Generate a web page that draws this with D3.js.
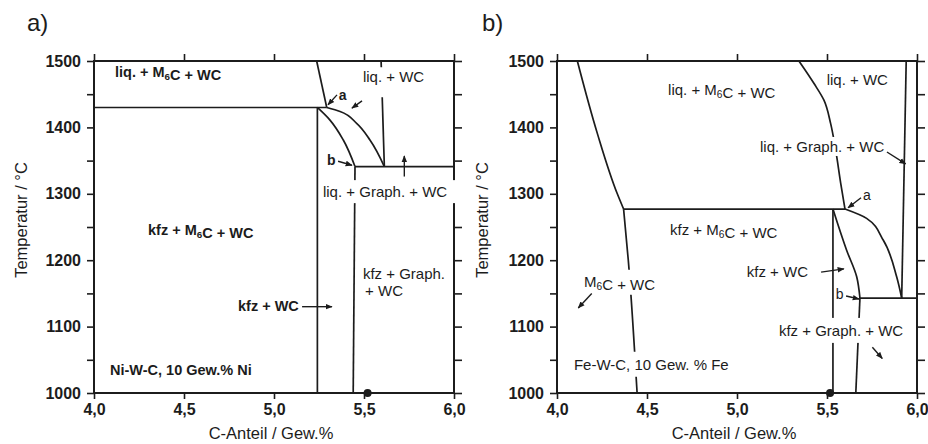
<!DOCTYPE html>
<html>
<head>
<meta charset="utf-8">
<script src="https://cdn.jsdelivr.net/npm/d3@7"></script>
<style>
  body { margin: 0; background: #fff; }
  text { fill: #1c1c1c; }
</style>
</head>
<body>
<svg id="chart" width="928" height="444"></svg>
<script>
// axis values
var xTicks = [4.0, 4.5, 5.0, 5.5, 6.0];
var yTicks = [1000, 1050, 1100, 1150, 1200, 1250, 1300, 1350, 1400, 1450, 1500];
var yLabelTicks = [1000, 1100, 1200, 1300, 1400, 1500];

// panel a) Ni-W-C : phase boundaries as [C-Anteil, Temperatur]
var linesA = [
  [[4.0, 1430], [5.293, 1430]],
  [[5.237, 1500], [5.293, 1430]],
  [[5.293, 1430], [5.367, 1424], [5.459, 1406], [5.533, 1381], [5.613, 1341]],
  [[5.241, 1430], [5.311, 1411], [5.385, 1381], [5.45, 1341]],
  [[5.45, 1341], [6.0, 1341]],
  [[5.595, 1500], [5.613, 1341]],
  [[5.241, 1430], [5.241, 1000]],
  [[5.45, 1341], [5.44, 1000]]
];
var arrowsA = [
  [[5.35, 1449], [5.30, 1434]],
  [[5.489, 1440], [5.433, 1429]],
  [[5.356, 1349], [5.433, 1343]],
  [[5.724, 1326], [5.724, 1357]],
  [[5.156, 1130], [5.322, 1130]]
];
var labelsA = [
  {t: "liq. + M_6C + WC", c: 4.117, T: 1476, bold: true},
  {t: "liq. + WC", c: 5.494, T: 1468},
  {t: "liq. + Graph. + WC", c: 5.272, T: 1295},
  {t: "kfz + M_6C + WC", c: 4.30, T: 1238, bold: true},
  {t: "kfz + Graph.", c: 5.494, T: 1172},
  {t: "+ WC", c: 5.506, T: 1146},
  {t: "kfz + WC", c: 4.80, T: 1124, bold: true},
  {t: "Ni-W-C, 10 Gew.% Ni", c: 4.089, T: 1027, bold: true}
];
var lettersA = [
  {t: "a", c: 5.36, T: 1441, bold: true},
  {t: "b", c: 5.294, T: 1343, bold: true}
];
var dotsA = [[5.52, 1000]];

// panel b) Fe-W-C
var linesB = [
  [[4.113, 1500], [4.224, 1391], [4.335, 1300], [4.37, 1277]],
  [[4.37, 1277], [4.396, 1200], [4.443, 1009], [4.445, 1000]],
  [[4.37, 1277], [5.60, 1277]],
  [[5.344, 1500], [5.428, 1466], [5.483, 1441], [5.52, 1406], [5.548, 1366], [5.576, 1316], [5.60, 1277]],
  [[5.60, 1277], [5.72, 1263], [5.813, 1230], [5.887, 1175], [5.915, 1143]],
  [[5.533, 1277], [5.609, 1215], [5.665, 1175], [5.683, 1143]],
  [[5.533, 1277], [5.533, 1000]],
  [[5.683, 1143], [6.0, 1143]],
  [[5.94, 1500], [5.915, 1143]],
  [[5.683, 1143], [5.66, 1000]]
];
var arrowsB = [
  [[5.689, 1294], [5.617, 1279]],
  [[5.833, 1363], [5.937, 1345]],
  [[5.467, 1182], [5.594, 1187]],
  [[5.606, 1146], [5.678, 1141.5]],
  [[5.752, 1069], [5.807, 1052]],
  [[4.193, 1150], [4.118, 1128]]
];
var labelsB = [
  {t: "liq. + M_6C + WC", c: 4.617, T: 1449},
  {t: "liq. + WC", c: 5.498, T: 1464},
  {t: "liq. + Graph. + WC", c: 5.128, T: 1363},
  {t: "kfz + M_6C + WC", c: 4.628, T: 1238},
  {t: "M_6C + WC", c: 4.15, T: 1160},
  {t: "kfz + WC", c: 5.054, T: 1175},
  {t: "kfz + Graph. + WC", c: 5.233, T: 1086},
  {t: "Fe-W-C, 10 Gew. % Fe", c: 4.094, T: 1035}
];
var lettersB = [
  {t: "a", c: 5.70, T: 1291},
  {t: "b", c: 5.548, T: 1141.5}
];
var dotsB = [[5.517, 1000]];

var FONT = "'Liberation Sans', Arial, Helvetica, sans-serif";
var INK = "#1c1c1c";

var svg = d3.select("#chart");

svg.append("defs").append("marker")
  .attr("id", "ah")
  .attr("viewBox", "0 0 10 10")
  .attr("refX", 9).attr("refY", 5)
  .attr("markerWidth", 7).attr("markerHeight", 7)
  .attr("markerUnits", "userSpaceOnUse")
  .attr("orient", "auto")
  .append("path").attr("d", "M0,1L10,5L0,9z").attr("fill", INK);

var y = d3.scaleLinear().domain([1000, 1500]).range([393, 61]);

function commaFmt(d) { return d3.format(".1f")(d).replace(".", ","); }

// writes "M_6C" style text with subscript digits
function writeText(sel, str, size) {
  str.split(/(_\d)/).forEach(function(part) {
    if (!part) return;
    if (part.charAt(0) === "_") {
      sel.append("tspan").attr("font-size", size * 0.68).attr("dy", 3).text(part.slice(1));
      sel.append("tspan").attr("dy", -3).text("");
    } else {
      sel.append("tspan").text(part);
    }
  });
}

function drawPanel(opts) {
  var x = d3.scaleLinear().domain([4, 6]).range([opts.x0, opts.x1]);
  var g = svg.append("g");
  var line = d3.line().x(function(d) { return x(d[0]); }).y(function(d) { return y(d[1]); })
    .curve(d3.curveMonotoneY);

  // axes
  var left = g.append("g").attr("transform", "translate(" + opts.x0 + ",0)")
    .call(d3.axisLeft(y).tickValues(yTicks).tickSize(7).tickPadding(6).tickSizeOuter(0)
      .tickFormat(function(d) { return yLabelTicks.indexOf(d) >= 0 ? d : ""; }));
  var right = g.append("g").attr("transform", "translate(" + opts.x1 + ",0)")
    .call(d3.axisRight(y).tickValues(yTicks).tickSize(8).tickSizeOuter(0).tickFormat(""));
  var bottom = g.append("g").attr("transform", "translate(0,393)")
    .call(d3.axisBottom(x).tickValues(xTicks).tickSize(6).tickPadding(5).tickSizeOuter(0).tickFormat(commaFmt));
  var top = g.append("g").attr("transform", "translate(0,61)")
    .call(d3.axisTop(x).tickValues(xTicks).tickSize(7).tickSizeOuter(0).tickFormat(""));
  [left, right, bottom, top].forEach(function(a) {
    a.select(".domain").remove();
    a.selectAll(".tick line").attr("stroke", INK).attr("stroke-width", 1.6);
    a.selectAll("text").attr("font-family", FONT).attr("font-size", 16)
      .attr("font-weight", "bold").attr("fill", INK);
  });

  g.append("rect")
    .attr("x", opts.x0).attr("y", y(1500))
    .attr("width", opts.x1 - opts.x0).attr("height", y(1000) - y(1500))
    .attr("fill", "none").attr("stroke", INK).attr("stroke-width", 2);

  // phase boundaries
  g.selectAll("path.phase").data(opts.lines).enter().append("path")
    .attr("class", "phase")
    .attr("d", line)
    .attr("fill", "none").attr("stroke", INK).attr("stroke-width", 1.7);

  // region labels, white background cuts the lines behind them
  opts.labels.forEach(function(l) {
    var lg = g.append("g");
    var size = l.bold ? 14.5 : 15;
    var txt = lg.append("text")
      .attr("x", x(l.c)).attr("y", y(l.T))
      .attr("font-family", FONT).attr("font-size", size)
      .attr("font-weight", l.bold ? "bold" : "normal");
    writeText(txt, l.t, size);
    var bb = txt.node().getBBox();
    var pad = opts.pads[l.t] || [2, 1, 2, 1];
    lg.insert("rect", "text")
      .attr("x", bb.x - pad[0]).attr("y", bb.y - pad[1])
      .attr("width", bb.width + pad[0] + pad[2]).attr("height", bb.height + pad[1] + pad[3])
      .attr("fill", "#fff");
  });

  g.selectAll("path.arrow").data(opts.arrows).enter().append("path")
    .attr("class", "arrow")
    .attr("d", d3.line().x(function(d) { return x(d[0]); }).y(function(d) { return y(d[1]); }))
    .attr("fill", "none").attr("stroke", INK).attr("stroke-width", 1.4)
    .attr("marker-end", "url(#ah)");

  g.selectAll("text.letter").data(opts.letters).enter().append("text")
    .attr("class", "letter")
    .attr("x", function(d) { return x(d.c); }).attr("y", function(d) { return y(d.T); })
    .attr("font-family", FONT).attr("font-size", 14)
    .attr("font-weight", function(d) { return d.bold ? "bold" : "normal"; })
    .text(function(d) { return d.t; });

  g.selectAll("circle.dot").data(opts.dots).enter().append("circle")
    .attr("class", "dot")
    .attr("cx", function(d) { return x(d[0]); }).attr("cy", function(d) { return y(d[1]); })
    .attr("r", 4).attr("fill", INK);

  // titles
  g.append("text")
    .attr("x", (opts.x0 + opts.x1) / 2 - 3).attr("y", 439)
    .attr("text-anchor", "middle")
    .attr("font-family", FONT).attr("font-size", 16.5)
    .text("C-Anteil / Gew.%");
  g.append("text")
    .attr("transform", "translate(" + opts.yTitleX + ",220) rotate(-90)")
    .attr("text-anchor", "middle")
    .attr("font-family", FONT).attr("font-size", 16.5)
    .text("Temperatur / °C");
  g.append("text")
    .attr("x", opts.tagX).attr("y", 31)
    .attr("font-family", FONT).attr("font-size", 24)
    .text(opts.tag);
}

drawPanel({
  x0: 94, x1: 454, tag: "a)", tagX: 27, yTitleX: 26.5,
  lines: linesA, arrows: arrowsA, labels: labelsA, letters: lettersA, dots: dotsA,
  pads: {"liq. + WC": [2, 1, 2, 12], "liq. + Graph. + WC": [2, 3, 15, 3]}
});
drawPanel({
  x0: 557, x1: 917, tag: "b)", tagX: 482, yTitleX: 488,
  lines: linesB, arrows: arrowsB, labels: labelsB, letters: lettersB, dots: dotsB,
  pads: {"M_6C + WC": [2, 3, 2, 2], "Fe-W-C, 10 Gew. % Fe": [2, 4, 2, 4], "kfz + Graph. + WC": [2, 4, 2, 4]}
});
</script>
</body>
</html>
